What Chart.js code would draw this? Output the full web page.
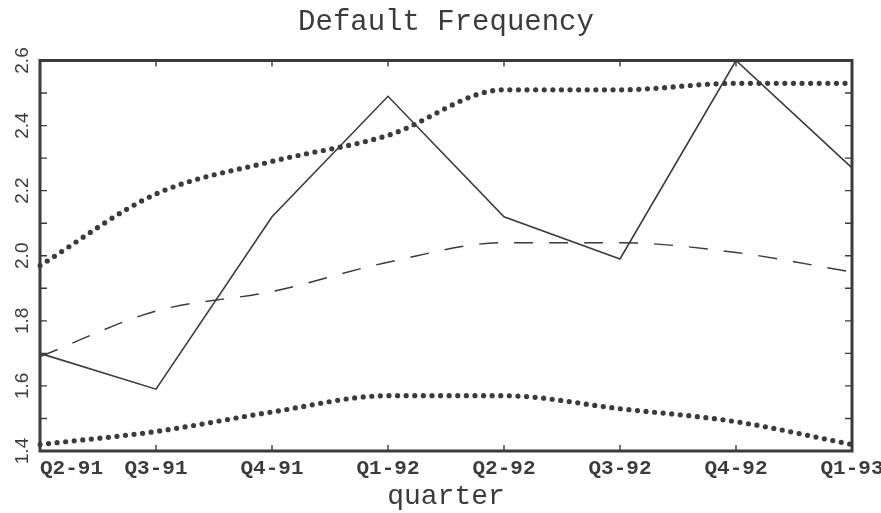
<!DOCTYPE html>
<html>
<head>
<meta charset="utf-8">
<title>Default Frequency</title>
<script src="https://cdn.jsdelivr.net/npm/chart.js@4/dist/chart.umd.min.js"></script>
<style>
  html, body { margin: 0; padding: 0; background: #ffffff; }
  #wrap { width: 881px; height: 513px; }
</style>
</head>
<body>
<div id="wrap"><canvas id="chart" width="881" height="513"></canvas></div>
<script>
// Quarterly default frequency: observed values, fitted trend and its band
const quarters  = ['Q2-91', 'Q3-91', 'Q4-91', 'Q1-92', 'Q2-92', 'Q3-92', 'Q4-92', 'Q1-93'];
const observed  = [1.70, 1.59, 2.12, 2.49, 2.12, 1.99, 2.60, 2.27];
const fitted    = [1.69, 1.83, 1.89, 1.98, 2.04, 2.04, 2.01, 1.95];
const upperBand = [1.97, 2.19, 2.29, 2.37, 2.51, 2.51, 2.53, 2.53];
const lowerBand = [1.42, 1.46, 1.52, 1.57, 1.57, 1.53, 1.49, 1.42];

// Value axis range; every tick gets a mark, every other one a label
const yMin = 1.4;
const yMax = 2.6;
const yStep = 0.1;

const INK = '#3b3b3b';

// Box around the plot with inward tick marks on all four sides
const framePlugin = {
  id: 'frame',
  afterDatasetsDraw(chart) {
    const { ctx, chartArea: a, scales: { x, y } } = chart;
    ctx.save();
    ctx.strokeStyle = INK;
    ctx.lineWidth = 1.4;
    ctx.beginPath();
    y.ticks.forEach(t => {
      const py = y.getPixelForValue(t.value);
      ctx.moveTo(a.left, py);  ctx.lineTo(a.left + 7, py);
      ctx.moveTo(a.right, py); ctx.lineTo(a.right - 7, py);
    });
    x.ticks.forEach((t, i) => {
      const px = x.getPixelForTick(i);
      ctx.moveTo(px, a.bottom); ctx.lineTo(px, a.bottom - 6);
      ctx.moveTo(px, a.top);    ctx.lineTo(px, a.top + 6);
    });
    ctx.stroke();
    ctx.lineWidth = 3;
    ctx.strokeRect(a.left, a.top, a.right - a.left, a.bottom - a.top);
    ctx.restore();
  }
};

const dotted = {
  borderColor: INK,
  borderWidth: 5.2,
  borderDash: [0, 8.6],
  borderCapStyle: 'round',
  cubicInterpolationMode: 'monotone',
  pointRadius: 0,
  fill: false
};

new Chart(document.getElementById('chart'), {
  type: 'line',
  data: {
    labels: quarters,
    datasets: [
      Object.assign({ label: 'Upper bound', data: upperBand }, dotted),
      Object.assign({ label: 'Lower bound', data: lowerBand }, dotted),
      {
        label: 'Fitted',
        data: fitted,
        borderColor: INK,
        borderWidth: 1.4,
        borderDash: [19, 16],
        cubicInterpolationMode: 'monotone',
        pointRadius: 0,
        fill: false
      },
      {
        label: 'Observed',
        data: observed,
        borderColor: INK,
        borderWidth: 1.6,
        tension: 0,
        pointRadius: 0,
        fill: false
      }
    ]
  },
  options: {
    responsive: false,
    animation: false,
    events: [],
    layout: { padding: { left: 0, right: 29, top: 0, bottom: 0 } },
    plugins: {
      legend: { display: false },
      tooltip: { enabled: false },
      title: {
        display: true,
        fullSize: false,
        text: 'Default Frequency',
        color: INK,
        font: { family: 'Liberation Mono', size: 29, weight: 'normal', lineHeight: 1.2 },
        padding: { top: 5, bottom: 20.7 }
      }
    },
    scales: {
      x: {
        type: 'category',
        offset: false,
        grid: { display: false, drawTicks: false },
        border: { display: false },
        ticks: {
          autoSkip: false,
          maxRotation: 0,
          minRotation: 0,
          padding: 5,
          color: INK,
          font: { family: 'Liberation Mono', size: 21, weight: 'bold' },
          // first label sits inside the frame, starting at the left edge
          callback(value, index) {
            const text = this.getLabelForValue(value);
            return index === 0 ? '     ' + text : text;
          }
        },
        title: {
          display: true,
          text: 'quarter',
          color: INK,
          font: { family: 'Liberation Mono', size: 28, weight: 'normal', lineHeight: 1.2 },
          padding: { top: 0, bottom: 0 }
        },
        afterFit(scale) {
          scale.height = 62;
          scale.paddingLeft = 0;
          scale.paddingRight = 0;
        }
      },
      y: {
        type: 'linear',
        min: yMin,
        max: yMax,
        grid: { display: false, drawTicks: false },
        border: { display: false },
        ticks: {
          stepSize: yStep,
          autoSkip: false,
          minRotation: 90,
          maxRotation: 90,
          crossAlign: 'center',
          padding: 4.5,
          color: INK,
          font: { family: 'Liberation Sans', size: 19, weight: 'normal' },
          callback(value, index) {
            return index % 2 === 0 ? Number(value).toFixed(1) : '';
          }
        },
        afterFit(scale) {
          scale.width = 40;
          scale.paddingTop = 0;
          scale.paddingBottom = 0;
        }
      }
    }
  },
  plugins: [framePlugin]
});
</script>
</body>
</html>
